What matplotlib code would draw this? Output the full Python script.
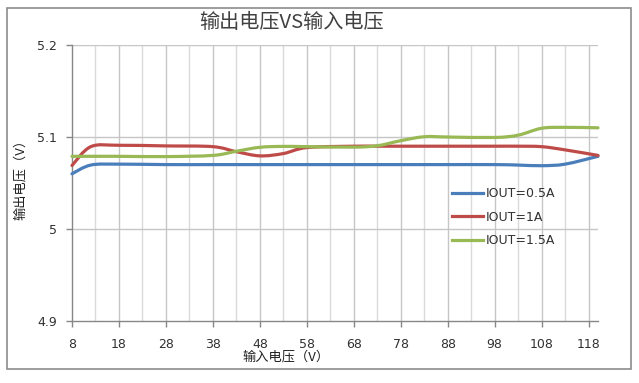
import matplotlib
matplotlib.use("Agg")
import matplotlib.pyplot as plt
import numpy as np
from matplotlib.path import Path
from matplotlib.patches import PathPatch, Rectangle
from matplotlib.lines import Line2D

plt.rcParams['font.family'] = ['DejaVu Sans', 'Noto Sans CJK SC']

# ---- data ----
vin = [8, 12, 18, 28, 38, 43, 48, 53, 58, 68, 73, 78, 83, 88, 98, 103, 108, 113, 120]
iout_05 = [5.060, 5.0695, 5.0705, 5.070, 5.070, 5.070, 5.070, 5.070, 5.070, 5.070,
           5.070, 5.070, 5.070, 5.070, 5.070, 5.0695, 5.0688, 5.0705, 5.079]
iout_10 = [5.069, 5.0895, 5.091, 5.0903, 5.0895, 5.084, 5.0795, 5.082, 5.0885, 5.090,
           5.090, 5.090, 5.090, 5.090, 5.090, 5.090, 5.0895, 5.086, 5.080]
iout_15 = [5.079, 5.079, 5.079, 5.0787, 5.080, 5.0845, 5.0888, 5.0898, 5.0895, 5.089,
           5.0905, 5.096, 5.1003, 5.100, 5.0995, 5.102, 5.1095, 5.1105, 5.110]
labels = ['IOUT=0.5A', 'IOUT=1A', 'IOUT=1.5A']
colors = ['#4A7EBB', '#BE4B48', '#98B954']
xticks = [8, 18, 28, 38, 48, 58, 68, 78, 88, 98, 108, 118]
yticks = [4.9, 5.0, 5.1, 5.2]
ytick_labels = ['4.9', '5', '5.1', '5.2']
title = '输出电压VS输入电压'
xlabel = '输入电压（V）'
ylabel = '输出电压（V）'

W, H = 639, 383
fig = plt.figure(figsize=(W / 100, H / 100), dpi=100)
ax = fig.add_axes([72 / W, 1 - 321 / H, (598 - 72) / W, (321 - 45) / H])


def smooth_path(xs, ys):
    pts = np.column_stack([xs, ys]).astype(float)
    n = len(pts)
    verts = [pts[0]]
    codes = [Path.MOVETO]
    for i in range(n - 1):
        p0 = pts[i - 1] if i > 0 else pts[i]
        p1 = pts[i]
        p2 = pts[i + 1]
        p3 = pts[i + 2] if i + 2 < n else pts[i + 1]
        c1 = p1 + (p2 - p0) / 6.0
        c2 = p2 - (p3 - p1) / 6.0
        verts += [c1, c2, p2]
        codes += [Path.CURVE4] * 3
    return Path(verts, codes)


handles = []
for ys, c, lab in zip([iout_05, iout_10, iout_15], colors, labels):
    patch = PathPatch(smooth_path(vin, ys), fill=False, edgecolor=c, lw=2.3,
                      capstyle='round', joinstyle='round', zorder=3)
    patch.set_clip_on(False)
    ax.add_patch(patch)
    handles.append(Line2D([], [], color=c, lw=2.3, label=lab))

ax.set_xlim(8, 120)
ax.set_ylim(4.9, 5.2)

# gridlines
for xv in np.arange(13, 119, 5):
    col = '#C6C6C6' if (xv - 8) % 10 == 0 else '#DADADA'
    ax.axvline(xv, color=col, lw=1, zorder=1)
for yv in [5.0, 5.1, 5.2]:
    ax.axhline(yv, color='#C6C6C6', lw=1, zorder=1)

ax.set_xticks(xticks)
ax.set_xticklabels([str(t) for t in xticks])
ax.set_yticks(yticks)
ax.set_yticklabels(ytick_labels)
ax.tick_params(axis='both', direction='out', length=4, width=1, color='#878787',
               labelsize=9, labelcolor='#303030')
ax.tick_params(axis='x', pad=8)
ax.tick_params(axis='y', pad=7)

for s in ['top', 'right']:
    ax.spines[s].set_visible(False)
for s in ['left', 'bottom']:
    ax.spines[s].set_color('#878787')
    ax.spines[s].set_linewidth(1)

leg = ax.legend(handles=handles, loc='upper left',
                bbox_to_anchor=(452 / W, 1 - 187 / H), bbox_transform=fig.transFigure,
                frameon=False, fontsize=9, handlelength=2.5, handletextpad=0.2,
                labelspacing=0.85, borderpad=0, borderaxespad=0)
for t in leg.get_texts():
    t.set_color('#303030')

fig.text(291 / W, 1 - 23 / H, title, ha='center', va='center', fontsize=14.5,
         color='#404040', family=['Noto Sans CJK SC', 'DejaVu Sans'])
fig.text(286 / W, 1 - 357 / H, xlabel, ha='center', va='center', fontsize=9.5,
         color='#202020', family=['Noto Sans CJK SC', 'DejaVu Sans'])
fig.text(20 / W, 1 - 176 / H, ylabel, ha='center', va='center', fontsize=9.5,
         rotation=90, color='#202020', family=['Noto Sans CJK SC', 'DejaVu Sans'])

fig.patches.append(Rectangle((7 / W, 1 - 369 / H), (631 - 7) / W, (369 - 8) / H,
                             transform=fig.transFigure, fill=False,
                             edgecolor='#8C8C8C', lw=1.2))

fig.savefig('out.png', dpi=100)
